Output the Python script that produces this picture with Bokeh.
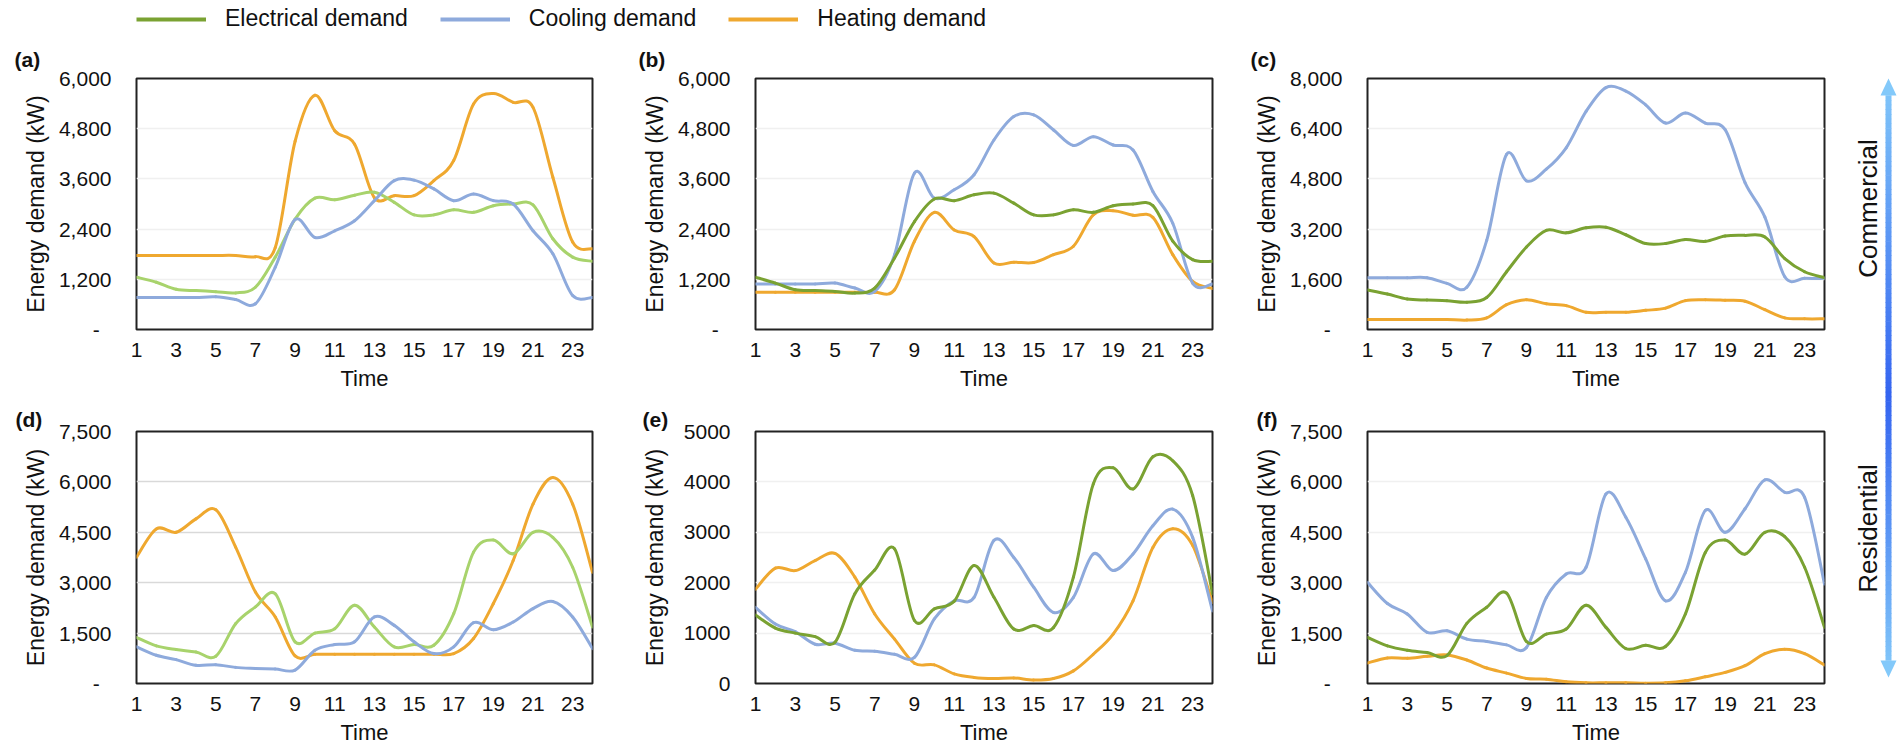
import math
from bokeh.plotting import figure
from bokeh.models import Range1d, FixedTicker, Legend, LegendItem, ColumnDataSource
from bokeh.layouts import row, column
from bokeh.embed import file_html
from bokeh.resources import INLINE
from bokeh.core.properties import value

FONT = "Liberation Sans"

# ---------------- data ----------------
hours = list(range(1, 25))
x_ticks = list(range(1, 24, 2))
series_names = ["Electrical demand", "Cooling demand", "Heating demand"]
row_names = ["Commercial", "Residential"]

a_elec = [1250, 1130, 960, 930, 905, 875, 1010, 1730, 2640, 3140, 3100, 3210, 3280, 3040, 2740, 2740, 2860, 2800, 2960, 3000, 2980, 2170, 1730, 1630]
a_cool = [765, 765, 765, 765, 780, 715, 615, 1490, 2630, 2200, 2360, 2600, 3080, 3560, 3570, 3360, 3080, 3240, 3080, 3000, 2360, 1810, 810, 765]
a_heat = [1770, 1770, 1770, 1770, 1770, 1770, 1740, 1960, 4500, 5600, 4750, 4430, 3150, 3200, 3200, 3560, 4040, 5390, 5640, 5430, 5310, 3640, 2090, 1930]

b_elec = [1250, 1110, 950, 930, 910, 870, 990, 1710, 2580, 3120, 3080, 3220, 3260, 3020, 2740, 2740, 2860, 2800, 2960, 3000, 2960, 2110, 1670, 1630]
b_cool = [1090, 1090, 1090, 1090, 1110, 990, 910, 1790, 3740, 3140, 3340, 3700, 4530, 5090, 5130, 4770, 4400, 4610, 4410, 4290, 3300, 2540, 1110, 1090]
b_heat = [890, 890, 890, 890, 890, 890, 890, 950, 2110, 2800, 2380, 2220, 1590, 1610, 1600, 1790, 1990, 2740, 2840, 2730, 2680, 1790, 1150, 980]

c_elec = [1260, 1130, 970, 940, 920, 870, 1020, 1840, 2630, 3160, 3080, 3240, 3260, 3020, 2740, 2740, 2870, 2810, 2980, 3000, 2950, 2260, 1840, 1650]
c_cool = [1650, 1650, 1650, 1650, 1470, 1350, 2840, 5580, 4740, 5110, 5790, 6950, 7710, 7600, 7160, 6580, 6900, 6580, 6370, 4680, 3580, 1680, 1630, 1630]
c_heat = [320, 320, 320, 320, 320, 300, 370, 790, 950, 820, 760, 550, 550, 550, 610, 680, 920, 950, 930, 900, 630, 370, 340, 340]

d_elec = [1370, 1120, 1010, 940, 810, 1780, 2280, 2670, 1240, 1500, 1630, 2330, 1680, 1090, 1160, 1140, 2080, 3910, 4270, 3860, 4500, 4350, 3460, 1680]
d_cool = [1090, 840, 710, 540, 560, 480, 450, 430, 400, 990, 1160, 1240, 1980, 1730, 1240, 890, 1090, 1810, 1600, 1830, 2230, 2440, 1980, 1040]
d_heat = [3760, 4600, 4500, 4900, 5170, 4060, 2720, 1980, 820, 870, 870, 870, 870, 870, 870, 870, 890, 1340, 2380, 3660, 5340, 6130, 5340, 3310]

e_elec = [1360, 1100, 1000, 930, 820, 1780, 2250, 2670, 1250, 1480, 1630, 2340, 1710, 1080, 1150, 1110, 2110, 3960, 4280, 3860, 4500, 4420, 3730, 1780]
e_cool = [1510, 1180, 1030, 780, 800, 660, 640, 580, 520, 1280, 1640, 1710, 2840, 2500, 1910, 1410, 1710, 2570, 2240, 2570, 3130, 3460, 2900, 1440]
e_heat = [1870, 2290, 2240, 2440, 2580, 2110, 1380, 880, 400, 370, 190, 120, 100, 110, 70, 100, 250, 580, 980, 1640, 2700, 3070, 2740, 1610]

f_elec = [1370, 1120, 990, 920, 830, 1790, 2270, 2690, 1250, 1470, 1620, 2330, 1670, 1040, 1140, 1100, 2070, 3900, 4270, 3850, 4500, 4370, 3460, 1670]
f_cool = [3010, 2380, 2070, 1520, 1570, 1320, 1250, 1150, 1070, 2560, 3260, 3460, 5640, 4950, 3710, 2460, 3310, 5150, 4500, 5200, 6060, 5690, 5540, 2960]
f_heat = [610, 760, 750, 810, 850, 700, 460, 310, 150, 130, 50, 20, 20, 20, 10, 20, 80, 200, 330, 530, 890, 1020, 890, 550]

a_ticks = [0, 1200, 2400, 3600, 4800, 6000]
b_ticks = [0, 1200, 2400, 3600, 4800, 6000]
c_ticks = [0, 1600, 3200, 4800, 6400, 8000]
d_ticks = [0, 1500, 3000, 4500, 6000, 7500]
e_ticks = [0, 1000, 2000, 3000, 4000, 5000]
f_ticks = [0, 1500, 3000, 4500, 6000, 7500]

# ---------------- styles ----------------
C_ELEC = "#7AA232"
C_ELEC_LIGHT = "#A8D36C"
C_COOL = "#8EAADC"
C_HEAT = "#EFA82F"
TXT = "#111111"

# layout (pixels)
COL_W = [635, 612, 593]
COL_LEFT = [136, 120, 120]
FRAME_W = [456, 457, 457]
ROW_H = [363, 354]
ROW_TOP = [42, 32]
TITLE_STANDOFF = [16, 2]
ROW_BOTTOM = 70
LEG_H = 36
ARROW_W = 61


def smooth_source(xs, ys, t=1.0 / 6.0):
    n = len(xs)
    d = dict(x0=[], y0=[], x1=[], y1=[], cx0=[], cy0=[], cx1=[], cy1=[])
    for i in range(n - 1):
        i0, i3 = max(i - 1, 0), min(i + 2, n - 1)
        d["x0"].append(xs[i]); d["y0"].append(ys[i])
        d["x1"].append(xs[i + 1]); d["y1"].append(ys[i + 1])
        d["cx0"].append(xs[i] + (xs[i + 1] - xs[i0]) * t)
        d["cy0"].append(ys[i] + (ys[i + 1] - ys[i0]) * t)
        d["cx1"].append(xs[i + 1] - (xs[i3] - xs[i]) * t)
        d["cy1"].append(ys[i + 1] - (ys[i3] - ys[i]) * t)
    return ColumnDataSource(d)


def fmt(v, comma):
    if v == 0:
        return "-\u00a0\u00a0" if comma else "0"
    return f"{v:,}" if comma else str(v)


def panel(label, col, rw, ticks, series, colors, grid_color, comma=True,
          label_offset=-122, ylab_standoff=7):
    p = figure(width=COL_W[col], height=ROW_H[rw],
               x_range=Range1d(1, 24), y_range=Range1d(0, ticks[-1]),
               output_backend="svg", toolbar_location=None,
               min_border_left=COL_LEFT[col],
               min_border_right=COL_W[col] - COL_LEFT[col] - FRAME_W[col],
               min_border_top=ROW_TOP[rw], min_border_bottom=ROW_BOTTOM)
    p.background_fill_color = "white"
    p.border_fill_color = "white"
    p.outline_line_color = "#222222"
    p.outline_line_width = 2

    p.xaxis.ticker = FixedTicker(ticks=x_ticks)
    p.yaxis.ticker = FixedTicker(ticks=ticks)
    p.yaxis.major_label_overrides = {t: fmt(t, comma) for t in ticks}
    for ax in (p.xaxis[0], p.yaxis[0]):
        ax.major_tick_out = 0
        ax.major_tick_in = 0
        ax.minor_tick_out = 0
        ax.minor_tick_in = 0
        ax.axis_line_color = None
        ax.major_label_text_font = FONT
        ax.major_label_text_font_size = "21px"
        ax.major_label_text_color = TXT
        ax.axis_label_text_font = FONT
        ax.axis_label_text_font_style = "normal"
        ax.axis_label_text_color = TXT
    p.xaxis.major_label_standoff = 13
    p.yaxis.major_label_standoff = 25
    p.xaxis.axis_label = "Time"
    p.xaxis.axis_label_text_font_size = "22px"
    p.xaxis.axis_label_standoff = 6
    p.yaxis.axis_label = "Energy demand (kW)"
    p.yaxis.axis_label_text_font_size = "23px"
    p.yaxis.axis_label_standoff = ylab_standoff

    p.xgrid.visible = False
    p.ygrid.ticker = FixedTicker(ticks=ticks)
    p.ygrid.grid_line_color = grid_color
    p.ygrid.grid_line_width = 1.5

    p.title.text = label
    p.title.align = "left"
    p.title.offset = label_offset
    p.title.standoff = TITLE_STANDOFF[rw]
    p.title.text_font = FONT
    p.title.text_font_size = "21px"
    p.title.text_font_style = "bold"
    p.title.text_color = TXT

    for ys, c in zip(series, colors):
        src = smooth_source(hours, ys)
        p.bezier(x0="x0", y0="y0", x1="x1", y1="y1", cx0="cx0", cy0="cy0",
                 cx1="cx1", cy1="cy1", source=src, line_color=c, line_width=3,
                 line_cap="round")
    return p


pa = panel("(a)", 0, 0, a_ticks, [a_heat, a_elec, a_cool], [C_HEAT, C_ELEC_LIGHT, C_COOL], "#f0f0f0", label_offset=-122)
pb = panel("(b)", 1, 0, b_ticks, [b_heat, b_cool, b_elec], [C_HEAT, C_COOL, C_ELEC], "#f0f0f0", label_offset=-117)
pc = panel("(c)", 2, 0, c_ticks, [c_heat, c_cool, c_elec], [C_HEAT, C_COOL, C_ELEC], "#f0f0f0", label_offset=-117)
pd = panel("(d)", 0, 1, d_ticks, [d_heat, d_elec, d_cool], [C_HEAT, C_ELEC_LIGHT, C_COOL], "#d9d9d9", label_offset=-121)
pe = panel("(e)", 1, 1, e_ticks, [e_heat, e_cool, e_elec], [C_HEAT, C_COOL, C_ELEC], "#f0f0f0", comma=False, label_offset=-113, ylab_standoff=13)
pf = panel("(f)", 2, 1, f_ticks, [f_heat, f_cool, f_elec], [C_HEAT, C_COOL, C_ELEC], "#f0f0f0", label_offset=-111)

# ---------------- legend strip ----------------
lg = figure(width=sum(COL_W), height=LEG_H, x_range=Range1d(0, 1), y_range=Range1d(0, 1),
            output_backend="svg", toolbar_location=None, min_border=0,
            x_axis_location=None, y_axis_location=None)
lg.grid.visible = False
lg.outline_line_color = None
leg_colors = [C_ELEC, C_COOL, C_HEAT]
rs = [lg.line(x=[5, 6], y=[5, 5], line_color=c, line_width=4) for c in leg_colors]
legend = Legend(items=[LegendItem(label=n, renderers=[r]) for n, r in zip(series_names, rs)],
                orientation="horizontal", location=(136, 4),
                glyph_width=70, glyph_height=26, label_height=26, label_standoff=19,
                spacing=32, padding=0, margin=0, border_line_color=None,
                background_fill_alpha=0, label_text_font=FONT,
                label_text_font_size="23px", label_text_color=TXT)
lg.add_layout(legend)

# ---------------- double arrow with labels ----------------
H = sum(ROW_H) + LEG_H
ar = figure(width=ARROW_W, height=H, x_range=Range1d(0, ARROW_W), y_range=Range1d(0, H),
            output_backend="svg", toolbar_location=None, min_border=0,
            x_axis_location=None, y_axis_location=None)
ar.grid.visible = False
ar.outline_line_color = None

AX, TIP_T, TIP_B, HEAD_L, HEAD_HW, SHAFT_HW, DARK_Y = 48, 78, 677, 17, 8, 3, 395
light = (135, 206, 250)
dark = (52, 100, 240)


def mix(t):
    return "#%02x%02x%02x" % tuple(int(round(l + (d - l) * t)) for l, d in zip(light, dark))


top_s, bot_s = TIP_T + HEAD_L, TIP_B - HEAD_L
steps = 120
qt, qb, qc = [], [], []
for k in range(steps):
    y_a = top_s + (bot_s - top_s) * k / steps
    y_b = top_s + (bot_s - top_s) * (k + 1) / steps
    ym = 0.5 * (y_a + y_b)
    if ym <= DARK_Y:
        t = (ym - top_s) / (DARK_Y - top_s)
    else:
        t = (bot_s - ym) / (bot_s - DARK_Y)
    qt.append(H - y_a + 0.3); qb.append(H - y_b - 0.3); qc.append(mix(0.1 + 0.9 * t))
ar.quad(left=AX - SHAFT_HW, right=AX + SHAFT_HW, top=qt, bottom=qb, fill_color=qc, line_color=None)
ar.patches(xs=[[AX - HEAD_HW, AX, AX + HEAD_HW], [AX - HEAD_HW, AX, AX + HEAD_HW]],
           ys=[[H - top_s, H - TIP_T, H - top_s], [H - bot_s, H - TIP_B, H - bot_s]],
           fill_color=[mix(0.05), mix(0.05)], line_color=None)
ar.text(x=[27, 27], y=[H - 208, H - 528], text=row_names, angle=math.pi / 2,
        text_align="center", text_baseline="middle", text_font=value(FONT),
        text_font_size="26px", text_color=TXT)

left = column(lg, row(pa, pb, pc), row(pd, pe, pf))
page = row(left, ar)

open("out.html", "w").write(file_html(page, INLINE))
